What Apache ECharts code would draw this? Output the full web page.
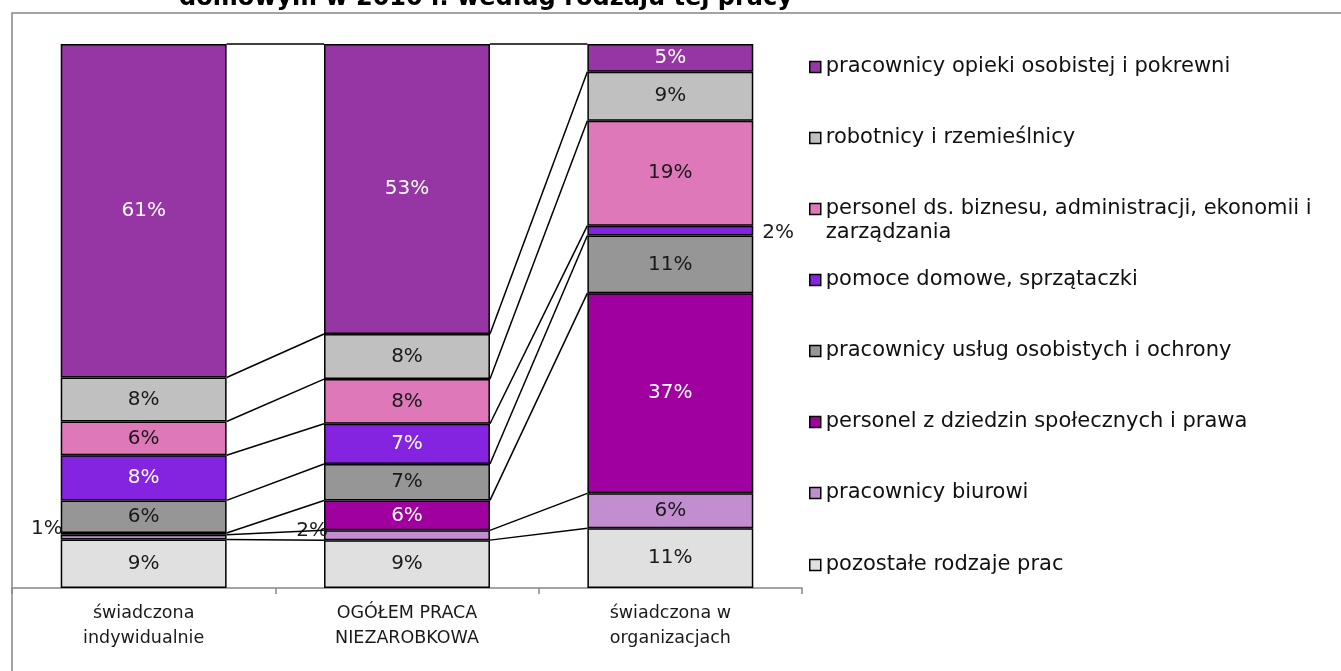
<!DOCTYPE html>
<html><head><meta charset="utf-8">
<script src="https://cdn.jsdelivr.net/npm/echarts@6/dist/echarts.min.js"></script>
<style>html,body{margin:0;padding:0;background:#fff}#c{width:1341px;height:671px}</style>
</head><body><div id="c"></div>
<script>
// ---- data ----
const categories = ['świadczona\nindywidualnie', 'OGÓŁEM PRACA\nNIEZAROBKOWA', 'świadczona w\norganizacjach'];
// series listed bottom -> top of the stack
const seriesNames = [
  'pozostałe rodzaje prac',
  'pracownicy biurowi',
  'personel z dziedzin społecznych i prawa',
  'pracownicy usług osobistych i ochrony',
  'pomoce domowe, sprzątaczki',
  'personel ds. biznesu, administracji, ekonomii i zarządzania',
  'robotnicy i rzemieślnicy',
  'pracownicy opieki osobistej i pokrewni'
];
const pozostale = [8.9, 8.8, 11.0];
const biurowi   = [0.9, 1.8, 6.4];
const spoleczne = [0.3, 5.5, 36.8];
const uslugi    = [6.0, 6.7, 10.6];
const pomoce    = [8.3, 7.4, 1.8];
const biznes    = [6.2, 8.2, 19.3];
const robotnicy = [8.1, 8.3, 9.0];
const opieka    = [61.3, 53.3, 5.1];
const seriesValues = [pozostale, biurowi, spoleczne, uslugi, pomoce, biznes, robotnicy, opieka];

// ---- styles ----
const FONT = 'DejaVu Sans';
const colors = ['#e0e0e0', '#c38ed0', '#a000a0', '#969696', '#8423e0', '#df78b9', '#c0c0c0', '#9636a5'];
const labelColors = ['#1a1a1a', '#1a1a1a', '#ffffff', '#1a1a1a', '#ffffff', '#1a1a1a', '#1a1a1a', '#ffffff'];
const BAR_FRAC = 0.63;
// label overrides: [seriesIndex, categoryIndex] -> label option
const labelOverrides = {
  '1,0': {position: 'left', distance: -2, offset: [0, -8], color: '#1a1a1a'},
  '2,0': {show: false},
  '1,1': {position: 'left', distance: -4, offset: [0, -4], color: '#1a1a1a'},
  '4,2': {position: 'right', distance: 9, offset: [0, 2], color: '#1a1a1a'}
};

const barSeries = seriesValues.map((vals, s) => ({
  name: seriesNames[s],
  type: 'bar',
  stack: 'total',
  barWidth: (BAR_FRAC * 100) + '%',
  itemStyle: {color: colors[s], borderColor: '#000', borderWidth: 1.5},
  label: {
    show: true, position: 'inside', color: labelColors[s],
    fontFamily: FONT, fontSize: 20,
    formatter: p => Math.round(p.value) + '%'
  },
  data: vals.map((v, i) => {
    const o = labelOverrides[s + ',' + i];
    return o ? {value: v, label: o} : v;
  })
}));

// cumulative tops for series lines
const cum = [];
let run = [0, 0, 0];
seriesValues.forEach(vals => { run = run.map((r, i) => r + vals[i]); cum.push(run.slice()); });
const lineData = [];
cum.forEach(c => { for (let i = 0; i < c.length - 1; i++) lineData.push([i, c[i], c[i + 1]]); });

const seriesLines = {
  type: 'custom',
  silent: true,
  z: 5,
  renderItem: (params, api) => {
    const i = api.value(0);
    const p1 = api.coord([i, api.value(1)]);
    const p2 = api.coord([i + 1, api.value(2)]);
    const hw = api.size([1, 0])[0] * BAR_FRAC / 2;
    return {type: 'line', shape: {x1: p1[0] + hw, y1: p1[1], x2: p2[0] - hw, y2: p2[1]},
            style: {stroke: '#000', lineWidth: 1.5}};
  },
  encode: {x: 0, y: 1},
  data: lineData
};

// legends, one per item (top series first)
const legendCenters = [67, 138, 209, 280, 351, 422, 493, 565];
const legendOrder = seriesNames.slice().reverse();
const LH = 24;
const legends = legendOrder.map((name, k) => {
  const twoLine = name.indexOf('zarządzania') >= 0;
  return {
    left: 809, top: legendCenters[k] - (twoLine ? 1.5 * LH : LH / 2),
    orient: 'vertical', padding: 0,
    itemWidth: 11, itemHeight: 11, itemGap: 0, icon: 'rect',
    selectedMode: false,
    // leading empty line keeps the first text line level with the icon
    formatter: n => n === seriesNames[5] ? '\npersonel ds. biznesu, administracji, ekonomii i\nzarządzania' : n,
    textStyle: {fontFamily: FONT, fontSize: 21, color: '#111', lineHeight: LH},
    itemStyle: {borderColor: '#000', borderWidth: 1.5},
    data: [name]
  };
});

const chart = echarts.init(document.getElementById('c'), null, {renderer: 'canvas'});
chart.setOption({
  animation: false,
  backgroundColor: '#fff',
  grid: {left: 12, right: 539, top: 44, bottom: 83, containLabel: false},
  xAxis: {
    type: 'category', data: categories,
    axisLine: {lineStyle: {color: '#868686', width: 1.5}},
    axisTick: {show: true, length: 6, lineStyle: {color: '#868686', width: 1.5}},
    axisLabel: {color: '#1a1a1a', fontFamily: FONT, fontSize: 17.5, lineHeight: 25, margin: 13}
  },
  yAxis: {type: 'value', min: 0, max: 100, show: false},
  legend: legends,
  graphic: [
    {type: 'polyline', silent: true, shape: {points: [[12, 671], [12, 13], [1341, 13]]},
     style: {stroke: '#868686', lineWidth: 1.5, fill: null}},
    {type: 'text', silent: true, x: 486, y: 11,
     style: {text: 'domowym w 2010 r. według rodzaju tej pracy', font: 'bold 24px "DejaVu Sans"',
             fill: '#000', align: 'center', verticalAlign: 'bottom'}}
  ],
  series: barSeries.concat([seriesLines])
});
</script></body></html>
